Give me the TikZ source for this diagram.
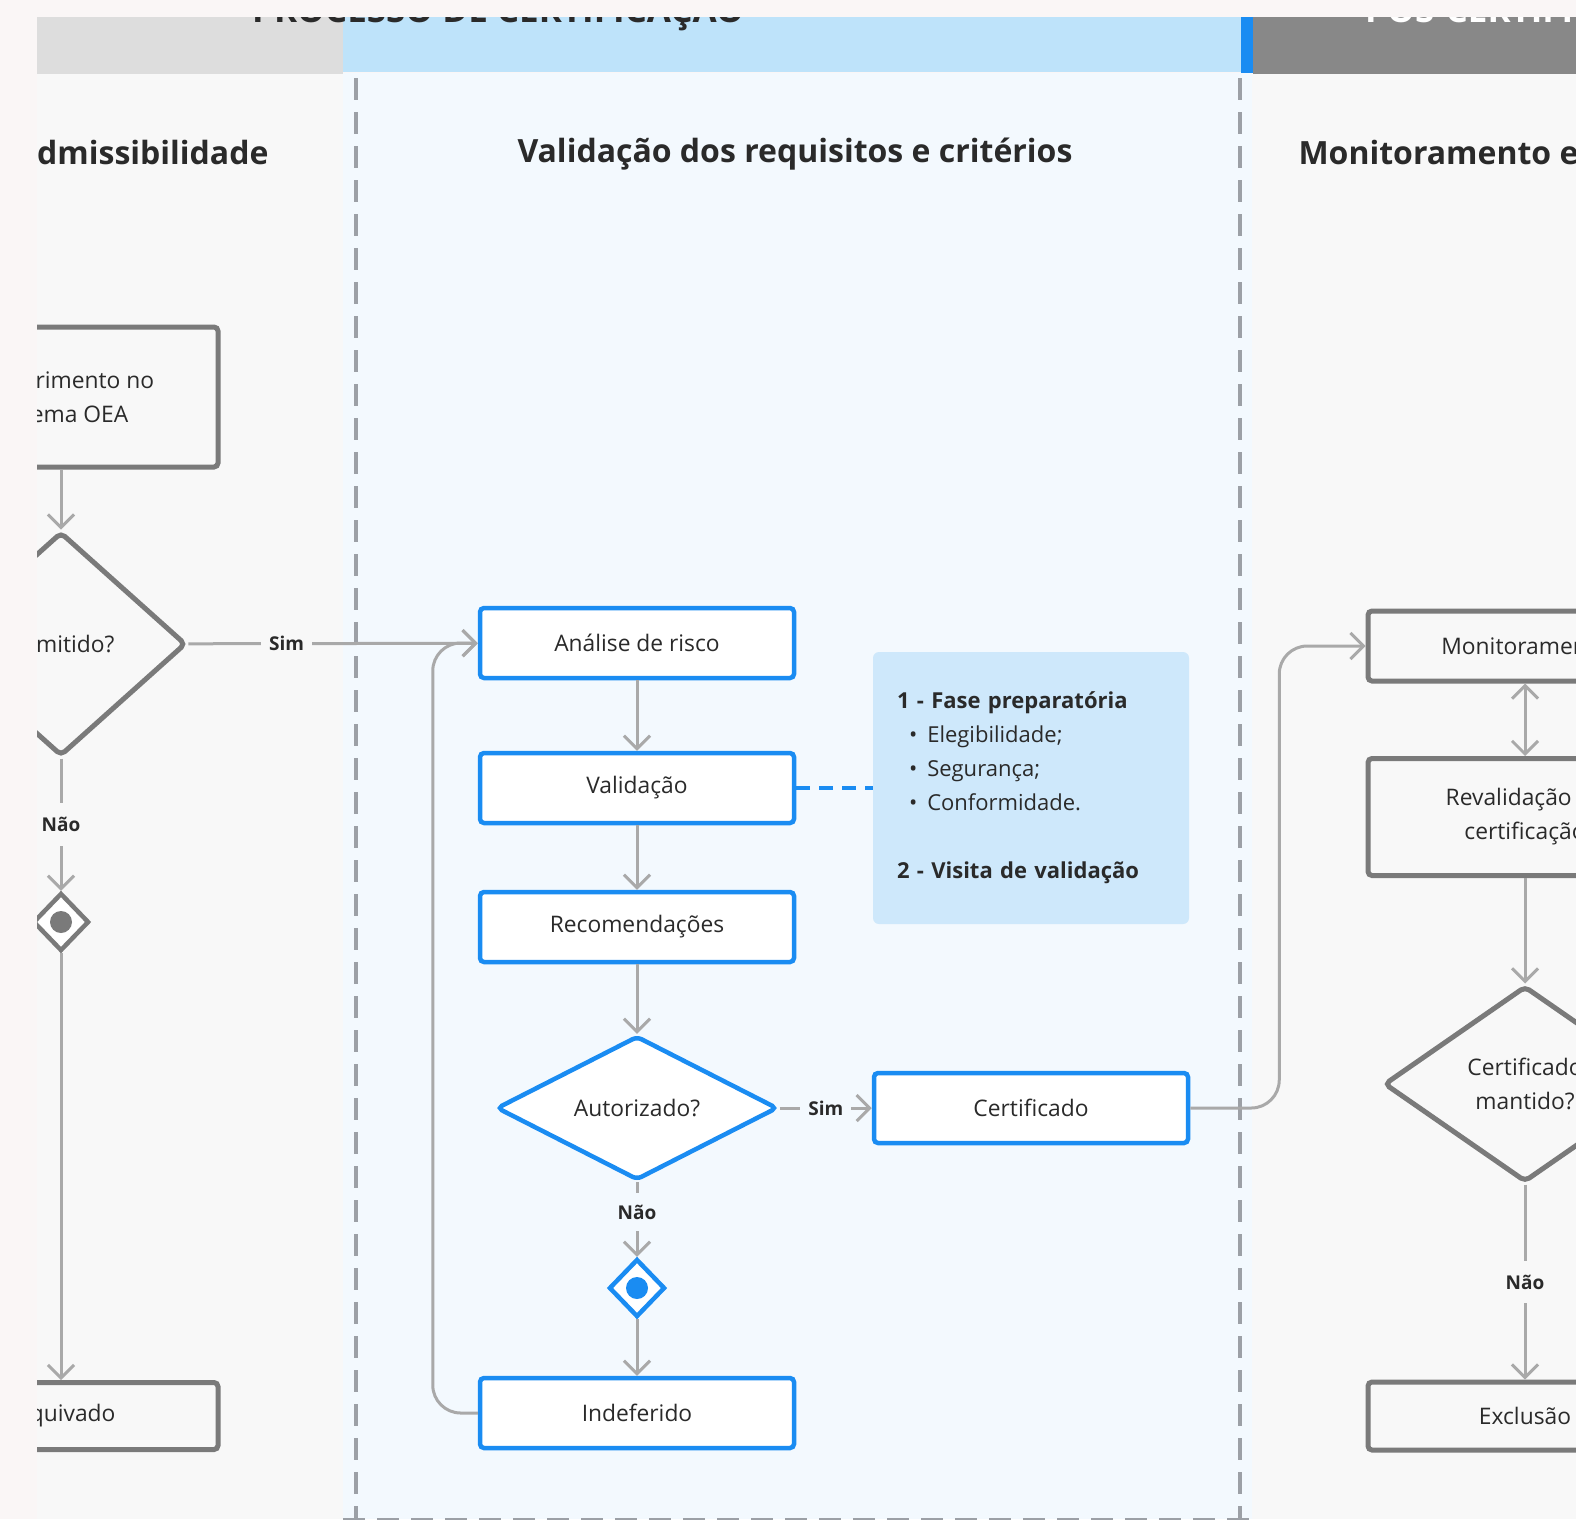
\documentclass[tikz,border=0pt]{standalone}
\usepackage{fontspec}
\setmainfont{Open Sans}
\usetikzlibrary{arrows.meta,shapes.geometric}

\definecolor{outerbg}{HTML}{FAF6F6}
\definecolor{sidebg}{HTML}{F8F8F8}
\definecolor{midbg}{HTML}{F3F9FE}
\definecolor{hdrgray}{HTML}{DDDDDD}
\definecolor{hdrblue}{HTML}{BEE3FA}
\definecolor{hdrdark}{HTML}{888888}
\definecolor{oeablue}{HTML}{1A8CF2}
\definecolor{boxgray}{HTML}{7A7A7A}
\definecolor{arrgray}{HTML}{A9A9A9}
\definecolor{lanegray}{HTML}{9CA0A6}
\definecolor{notebg}{HTML}{CEE8FB}
\definecolor{txt}{HTML}{2A2A2A}

\begin{document}
\begin{tikzpicture}[x=1pt, y=-1pt,
    >={Straight Barb[length=13pt, width=26pt]},
    arr/.style={draw=arrgray, line width=3pt, ->},
    bluebox/.style={draw=oeablue, fill=white, line width=4.5pt, rounded corners=4pt,
        minimum width=314pt, minimum height=70pt, align=center, text=txt,
        font=\fontsize{22.8}{34}\selectfont},
    graybox/.style={bluebox, draw=boxgray, fill=none, line width=5pt},
    bluedec/.style={diamond, aspect=2, inner sep=0pt, draw=oeablue, fill=white,
        line width=4.5pt, rounded corners=5pt, align=center, text=txt,
        font=\fontsize{22.8}{34}\selectfont},
    graydec/.style={bluedec, draw=boxgray, fill=none, line width=5pt},
    merge/.style={diamond, aspect=1, inner sep=0pt, minimum width=56pt,
        minimum height=58pt, fill=white, line width=4.5pt},
    lbl/.style={font=\bfseries\fontsize{19}{22}\selectfont, text=txt,
        inner xsep=8pt, inner ysep=14pt},
    laneline/.style={draw=lanegray, line width=4pt, dash pattern=on 22pt off 12pt},
    lanetitle/.style={font=\bfseries\fontsize{32}{38}\selectfont, text=txt},
    hdr/.style={font=\bfseries\fontsize{35}{40}\selectfont, inner sep=0pt}]

    % Page
    \useasboundingbox (0,0) rectangle (1576,1519);
    \fill[outerbg] (0,0) rectangle (1576,1519);

    \begin{scope}
    \clip (37,17) rectangle (1576,1519);

    % Lanes
    \fill[sidebg] (37,73) rectangle (343,1519);
    \fill[midbg] (343,73) rectangle (1252,1519);
    \fill[sidebg] (1252,73) rectangle (1576,1519);

    % Header
    \fill[hdrgray] (37,17) rectangle (343,74);
    \fill[hdrblue] (343,17) rectangle (1241,72);
    \fill[oeablue] (1241,17) rectangle (1253,73);
    \fill[hdrdark] (1253,17) rectangle (1576,74);
    \node[hdr, anchor=base, text=txt] (hdrproc) at (498,22) {PROCESSO DE CERTIFICAÇÃO};
    \node[hdr, anchor=base west, text=white] (hdrpos) at (1365,22) {PÓS-CERTIFICAÇÃO};

    % Lane borders
    \draw[laneline] (356,78) -- (356,1519);
    \draw[laneline] (1240,78) -- (1240,1519);
    \draw[laneline] (343,1520) -- (1252,1520);

    % Lane titles
    \node[lanetitle, anchor=base east] (tadm) at (272,164) {Admissibilidade};
    \node[lanetitle, anchor=base] (tval) at (795,162) {Validação dos requisitos e critérios};
    \node[lanetitle, anchor=base west] (tmon) at (1295,164) {Monitoramento e};

    % Admissibilidade
    \node[graybox, minimum height=140pt] (req) at (61,397) {Requerimento no\\Sistema OEA};
    \node[graydec, minimum width=250pt, minimum height=224pt] (adm) at (61,644) {Admitido?};
    \node[merge, draw=boxgray] (mg1) at (61,922) {};
    \fill[boxgray] (mg1) circle (11);
    \node[graybox, minimum height=67pt] (arq) at (61,1416) {Arquivado};

    % Validacao
    \node[bluebox] (analise) at (637,643) {Análise de risco};
    \node[bluebox] (valid) at (637,788) {Validação};
    \node[bluebox] (recom) at (637,927) {Recomendações};
    \node[bluedec, minimum width=281pt, minimum height=144pt] (aut) at (637,1108) {Autorizado?};
    \node[merge, draw=oeablue] (mg2) at (637,1288) {};
    \fill[oeablue] (mg2) circle (11);
    \node[bluebox] (indef) at (637,1413) {Indeferido};
    \node[bluebox] (cert) at (1031,1108) {Certificado};
    \node[fill=notebg, rounded corners=6pt, minimum width=316pt, minimum height=272pt,
        inner sep=24pt, text width=268pt, align=left, text=txt,
        font=\fontsize{22}{34}\selectfont] (note) at (1031,788)
        {\textbf{1 - Fase preparatória}\\
         \hspace*{12pt}\textbullet\hspace{10pt}Elegibilidade;\\
         \hspace*{12pt}\textbullet\hspace{10pt}Segurança;\\
         \hspace*{12pt}\textbullet\hspace{10pt}Conformidade.\\[34pt]
         \textbf{2 - Visita de validação}};

    % Monitoramento
    \node[graybox] (monit) at (1525,646) {Monitoramento};
    \node[graybox, minimum height=117pt] (reval) at (1525,817) {Revalidação da\\certificação};
    \node[graydec, minimum width=282pt, minimum height=196pt] (mant) at (1525,1084) {Certificado\\mantido?};
    \node[graybox, minimum height=68pt] (excl) at (1525,1416) {Exclusão};

    % Connectors
    \draw[arr] (req) -- (adm);
    \draw[arr] (adm) -- node[lbl, pos=0.34, fill=sidebg] {Sim} (analise);
    \draw[arr] (adm) -- node[lbl, fill=sidebg] {Não} (mg1);
    \draw[arr] (mg1) -- (arq);

    \draw[arr] (analise) -- (valid);
    \draw[arr] (valid) -- (recom);
    \draw[arr] (recom) -- (aut);
    \draw[arr] (aut) -- node[lbl, fill=midbg] {Sim} (cert);
    \draw[arr] (aut) -- node[lbl, pos=0.4, fill=midbg, inner ysep=12pt] {Não} (mg2);
    \draw[arr] (mg2) -- (indef);
    \draw[arr, rounded corners=28pt] (indef.west) -- ++(-45,0) |- (analise.west);
    \draw[oeablue, line width=4pt, dash pattern=on 14pt off 9pt] (valid.east) -- (note.west);

    \draw[arr, rounded corners=28pt] (cert.east) -- ++(89,0) |- (monit.west);
    \draw[arr, <->] (monit) -- (reval);
    \draw[arr] (reval) -- (mant);
    \draw[arr] (mant) -- node[lbl, fill=sidebg] {Não} (excl);
    \end{scope}
\end{tikzpicture}
\end{document}
